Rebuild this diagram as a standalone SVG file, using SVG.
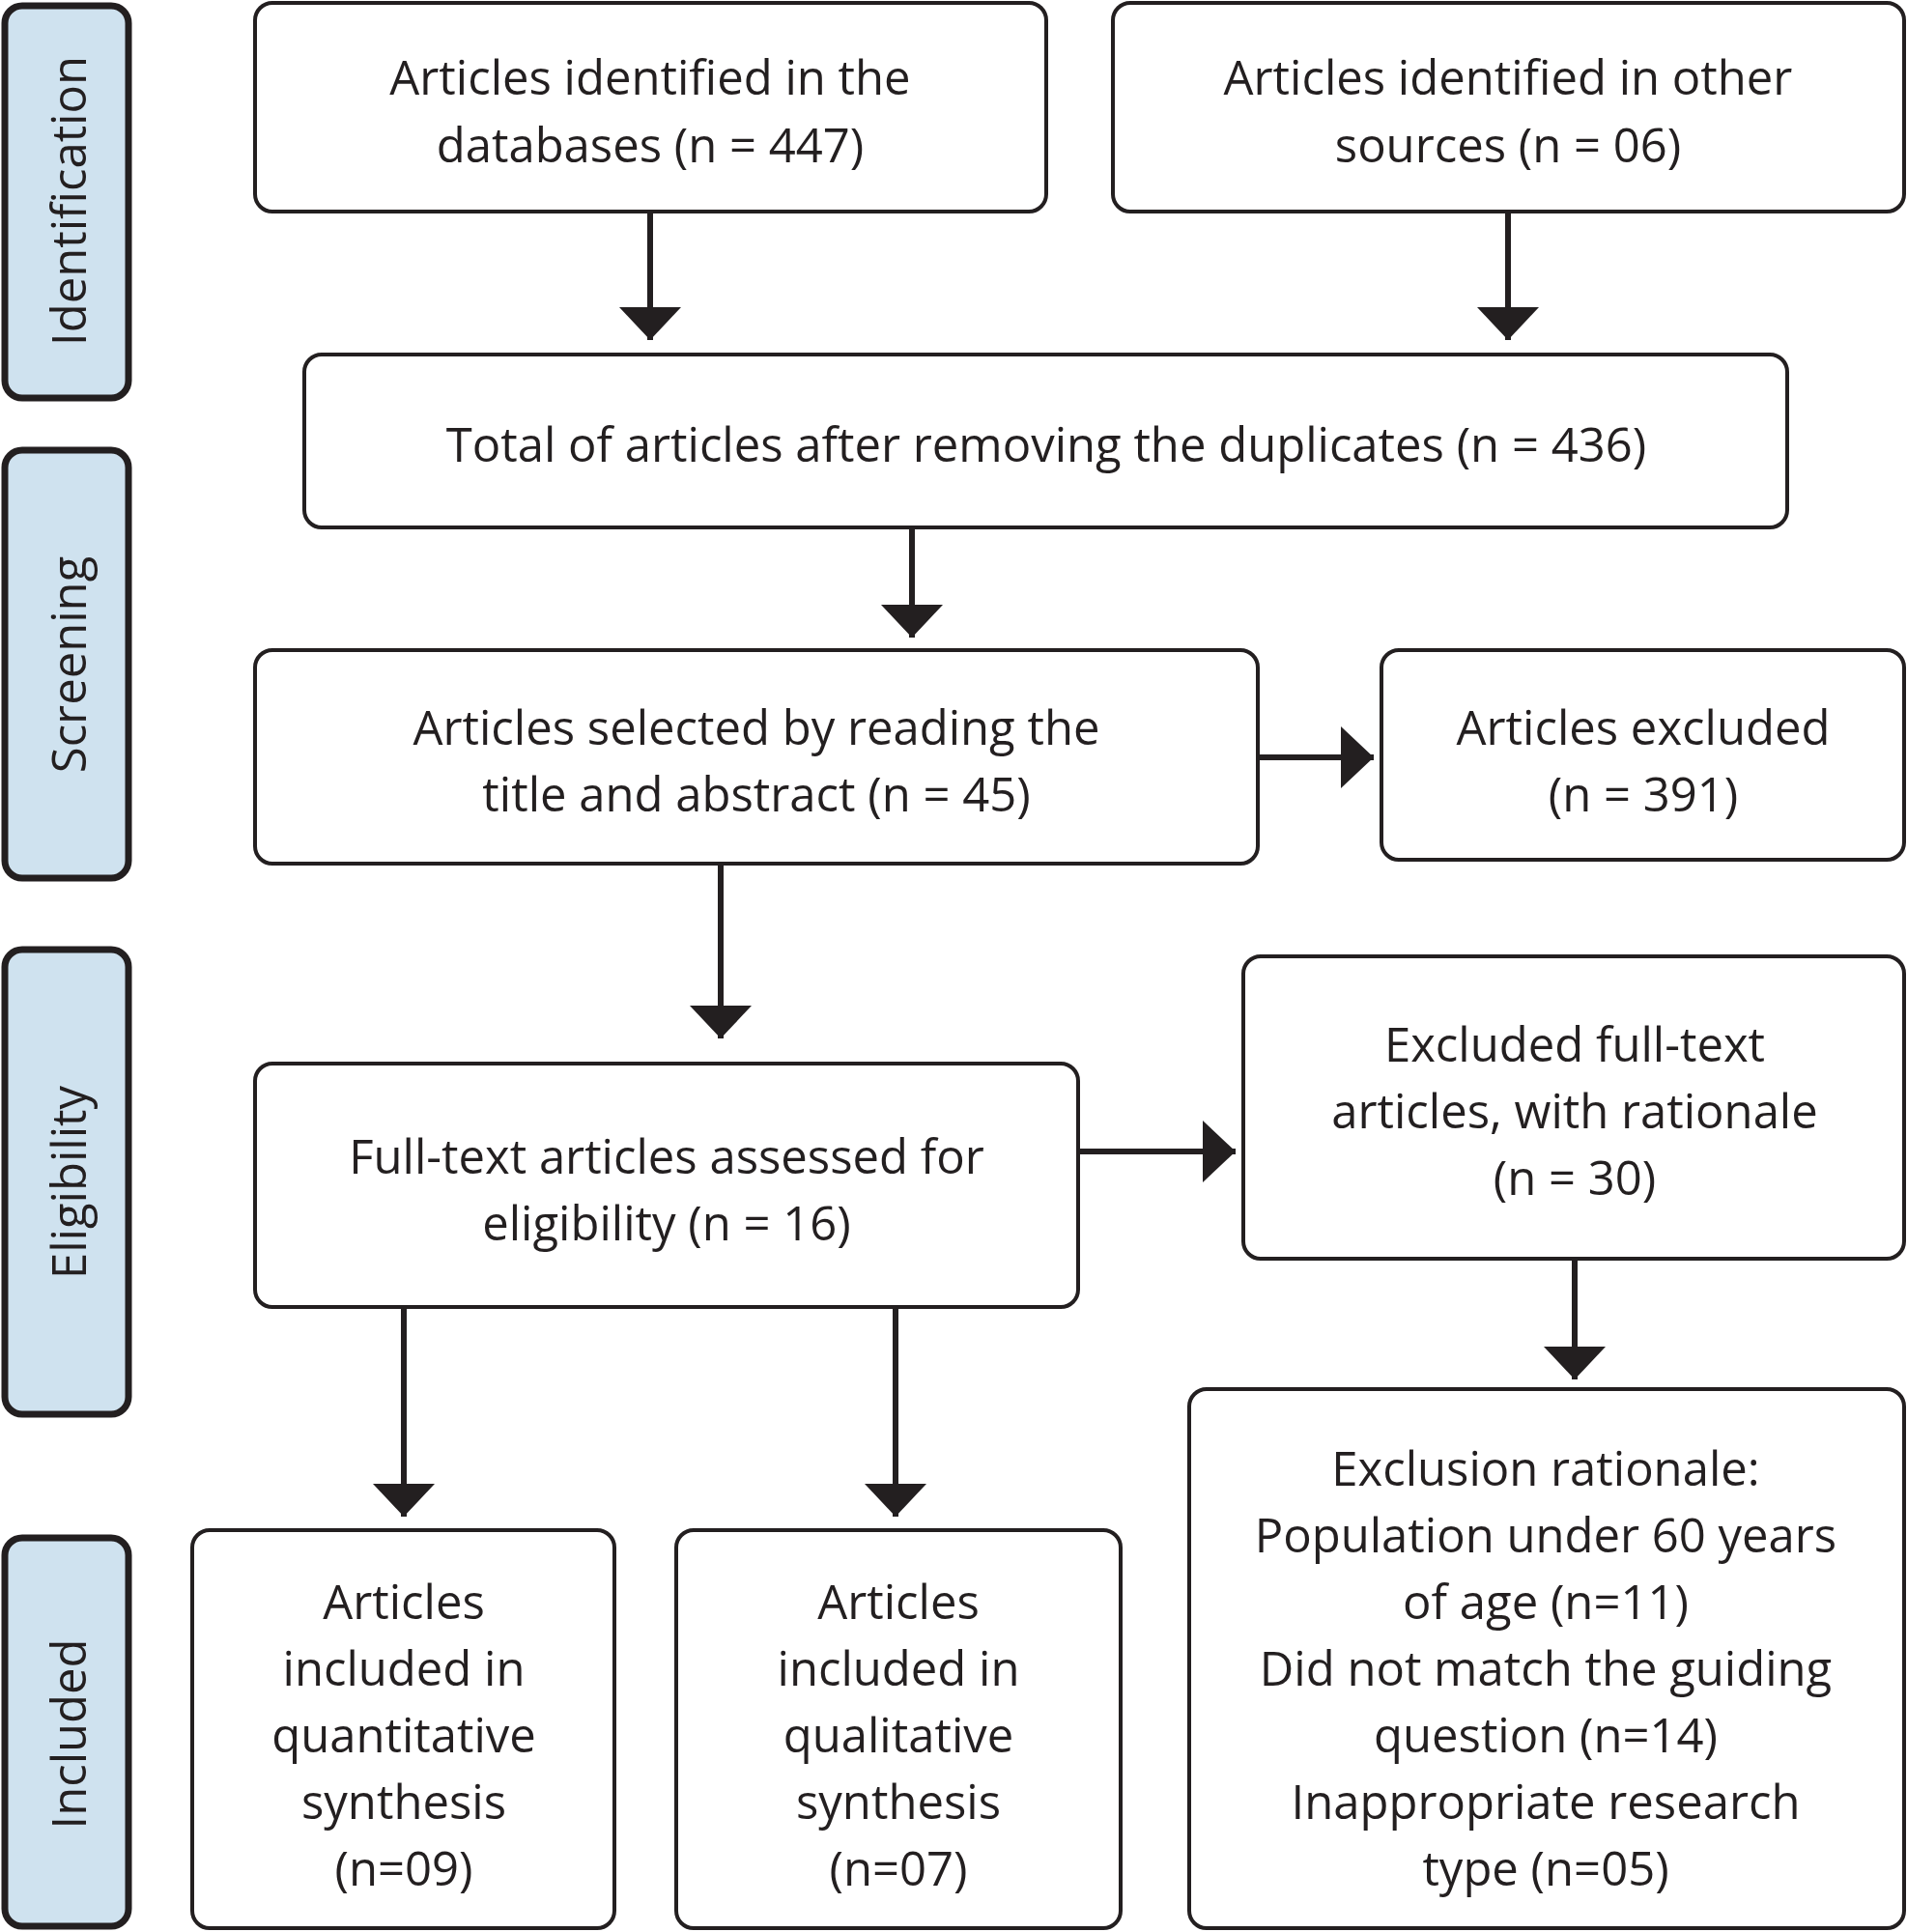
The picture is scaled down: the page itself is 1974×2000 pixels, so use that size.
<svg xmlns="http://www.w3.org/2000/svg" width="1974" height="2000" viewBox="0 0 1974 2000">
<style>
.b{fill:#fff;stroke:#231f20;stroke-width:4}
.s{fill:#cfe2ef;stroke:#231f20;stroke-width:7}
text{font-family:"Open Sans","Liberation Sans",sans-serif;font-size:49px;fill:#231f20;text-anchor:middle;dominant-baseline:central}
.c{stroke:#231f20;stroke-width:6;fill:none;marker-end:url(#a)}
</style>
<defs><marker id="a" markerUnits="userSpaceOnUse" markerWidth="34" markerHeight="64" refX="34" refY="32" orient="auto"><path d="M0,0L34,32L0,64Z" fill="#231f20"/></marker></defs>
<rect width="1974" height="2000" fill="#fff"/>
<g id="side-identification"><rect class="s" x="5" y="6" width="128" height="406" rx="18"/><text transform="translate(70,208) rotate(-90)">Identification</text></g>
<g id="side-screening"><rect class="s" x="5" y="466" width="128" height="443" rx="18"/><text transform="translate(70,688) rotate(-90)">Screening</text></g>
<g id="side-eligibility"><rect class="s" x="5" y="983" width="128" height="481" rx="18"/><text transform="translate(70,1224) rotate(-90)">Eligibility</text></g>
<g id="side-included"><rect class="s" x="5" y="1592" width="128" height="402" rx="18"/><text transform="translate(70,1795) rotate(-90)">Included</text></g>
<g id="connectors">
<line class="c" x1="673" y1="219" x2="673" y2="352"/>
<line class="c" x1="1561" y1="219" x2="1561" y2="352"/>
<line class="c" x1="944" y1="546" x2="944" y2="660"/>
<line class="c" x1="1302" y1="784" x2="1422" y2="784"/>
<line class="c" x1="746" y1="894" x2="746" y2="1075"/>
<line class="c" x1="1116" y1="1192" x2="1279" y2="1192"/>
<line class="c" x1="1630" y1="1303" x2="1630" y2="1428"/>
<line class="c" x1="418" y1="1353" x2="418" y2="1570"/>
<line class="c" x1="927" y1="1353" x2="927" y2="1570"/>
</g>
<g id="n1"><rect class="b" x="264" y="3" width="819" height="216" rx="18"/><text x="673" y="79">Articles identified in the</text><text x="673" y="149">databases (n = 447)</text></g>
<g id="n2"><rect class="b" x="1152" y="3" width="819" height="216" rx="18"/><text x="1561" y="79">Articles identified in other</text><text x="1561" y="149">sources (n = 06)</text></g>
<g id="n3"><rect class="b" x="315" y="367" width="1535" height="179" rx="18"/><text x="1083" y="459">Total of articles after removing the duplicates (n = 436)</text></g>
<g id="n4"><rect class="b" x="264" y="673" width="1038" height="221" rx="18"/><text x="783" y="752">Articles selected by reading the</text><text x="783" y="821">title and abstract (n = 45)</text></g>
<g id="n5"><rect class="b" x="1430" y="673" width="541" height="217" rx="18"/><text x="1701" y="752">Articles excluded</text><text x="1701" y="821">(n = 391)</text></g>
<g id="n6"><rect class="b" x="264" y="1101" width="852" height="252" rx="18"/><text x="690" y="1196">Full-text articles assessed for</text><text x="690" y="1265">eligibility (n = 16)</text></g>
<g id="n7"><rect class="b" x="1287" y="990" width="684" height="313" rx="18"/><text x="1630" y="1080">Excluded full-text</text><text x="1630" y="1149">articles, with rationale</text><text x="1630" y="1218">(n = 30)</text></g>
<g id="n8"><rect class="b" x="1231" y="1438" width="740" height="558" rx="18"/><text x="1600" y="1519">Exclusion rationale:</text><text x="1600" y="1588">Population under 60 years</text><text x="1600" y="1657">of age (n=11)</text><text x="1600" y="1726">Did not match the guiding</text><text x="1600" y="1795">question (n=14)</text><text x="1600" y="1864">Inappropriate research</text><text x="1600" y="1933">type (n=05)</text></g>
<g id="n9"><rect class="b" x="199" y="1584" width="437" height="412" rx="18"/><text x="418" y="1657">Articles</text><text x="418" y="1726">included in</text><text x="418" y="1795">quantitative</text><text x="418" y="1864">synthesis</text><text x="418" y="1933">(n=09)</text></g>
<g id="n10"><rect class="b" x="700" y="1584" width="460" height="412" rx="18"/><text x="930" y="1657">Articles</text><text x="930" y="1726">included in</text><text x="930" y="1795">qualitative</text><text x="930" y="1864">synthesis</text><text x="930" y="1933">(n=07)</text></g>
</svg>
